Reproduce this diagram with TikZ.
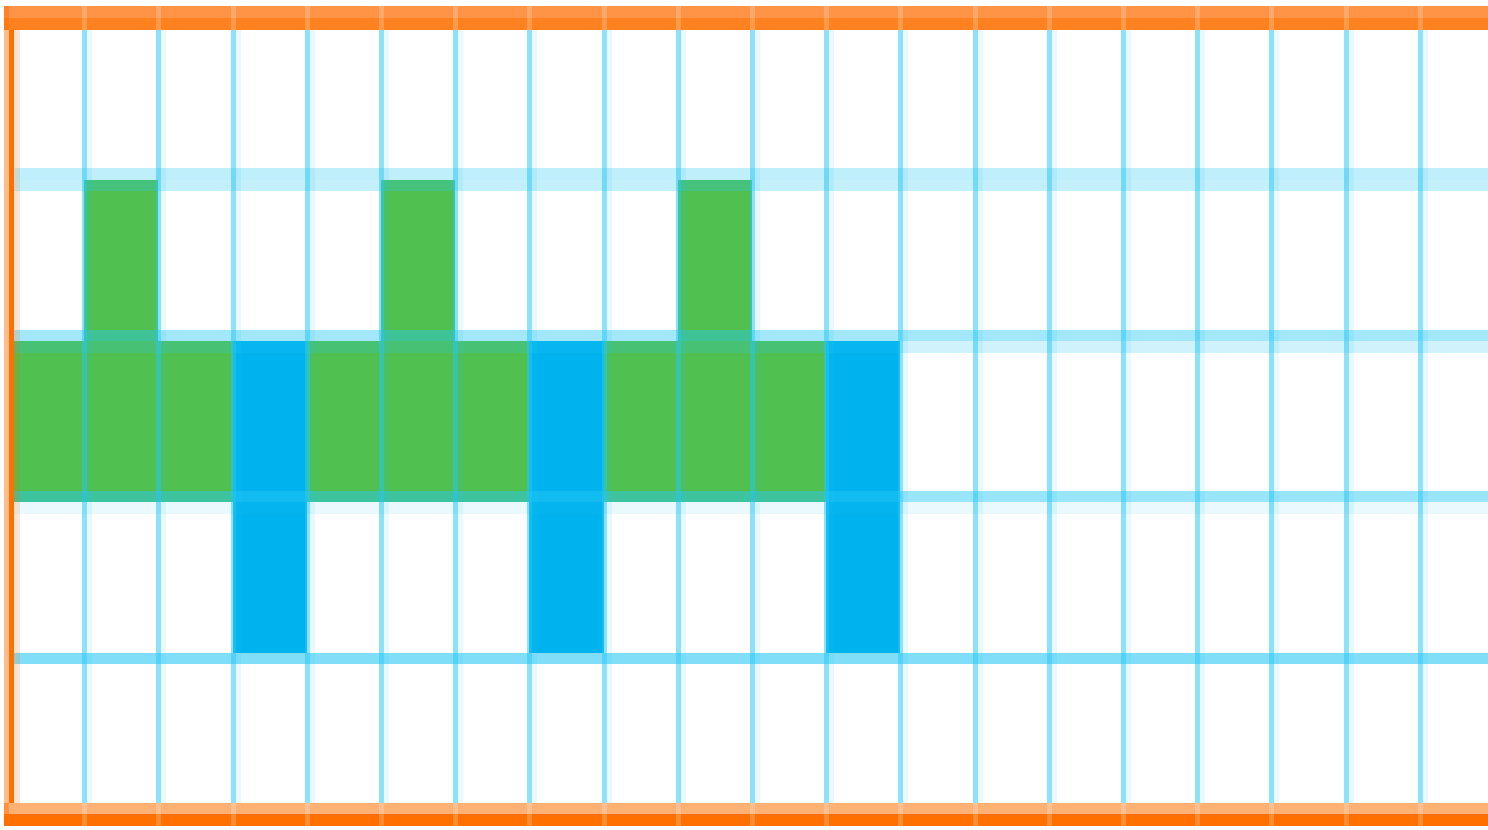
\documentclass[tikz,border=0pt]{standalone}
\usepackage{xcolor}
\usepackage{tikz}
\usetikzlibrary{calc}
\definecolor{cellgreen}{RGB}{80,192,80}
\definecolor{cellblue}{RGB}{0,178,238}
\definecolor{gridcyan}{RGB}{40,200,245}
\definecolor{frameorange}{RGB}{255,112,0}
\definecolor{framelight}{RGB}{255,136,50}

\begin{document}
\begin{tikzpicture}[
  x=0.02cm, y=-0.02cm,
  greencell/.style={fill=cellgreen},
  bluecell/.style={fill=cellblue},
  vline/.style={draw=gridcyan, line width=0.1cm, opacity=0.53},
  vhalo/.style={draw=gridcyan, line width=0.1cm, opacity=0.1},
  hline/.style={draw=gridcyan, line width=0.23cm},
  hhalo/.style={draw=gridcyan, line width=0.23cm, opacity=0.1},
  framebar/.style={draw=frameorange, line width=0.24cm},
  barmark/.style={draw=white, line width=0.1cm, opacity=0.2},
]
\useasboundingbox (0,0) rectangle (1488,829);
\fill[white] (0,0) rectangle (1488,829);

% cells
\foreach \c in {1,5,9}{ \fill[greencell] ({10+74.2*\c},180) rectangle ++(74.2,161); }
\foreach \c in {0,...,11}{ \fill[greencell] ({10+74.2*\c},341) rectangle ++(74.2,161); }
\foreach \c in {3,7,11}{
  \fill[bluecell] ({10+74.2*\c},341) rectangle ++(74.2,161);
  \fill[bluecell] ({10+74.2*\c},502) rectangle ++(74.2,151);
}

% grid
\foreach \c in {1,...,19}{
  \draw[vhalo] ({15.5+74.2*\c},30) -- ({15.5+74.2*\c},803);
  \draw[vline] ({10.5+74.2*\c},30) -- ({10.5+74.2*\c},803);
}
\draw[hline, opacity=0.29] (14,174) -- (1488,174);
\draw[hline, opacity=0.27] (14,185.5) -- (1488,185.5);
\draw[hline, opacity=0.43] (14,335.5) -- (1488,335.5);
\draw[hline, opacity=0.22] (14,347) -- (1488,347);
\draw[hline, opacity=0.47] (14,496.5) -- (1488,496.5);
\draw[hhalo] (14,508) -- (1488,508);
\draw[hline, opacity=0.59] (14,658.5) -- (1488,658.5);

% frame
\draw[framebar, draw=framelight, opacity=0.9] (4,12) -- (1488,12);
\draw[framebar, opacity=0.88] (4,24) -- (1488,24);
\draw[framebar, opacity=0.55] (4,808.5) -- (1488,808.5);
\draw[framebar] (4,820) -- (1488,820);
\draw[draw=frameorange, line width=0.1cm, opacity=0.45] (6.5,6) -- (6.5,826);
\draw[draw=frameorange, line width=0.1cm] (11.5,30) -- (11.5,803);
\draw[draw=frameorange, line width=0.12cm, opacity=0.18] (17,30) -- (17,803);
\foreach \c in {1,...,19}{
  \draw[barmark] ({10.5+74.2*\c},6) -- ({10.5+74.2*\c},30);
  \draw[barmark] ({10.5+74.2*\c},803) -- ({10.5+74.2*\c},829);
}
\end{tikzpicture}
\end{document}
